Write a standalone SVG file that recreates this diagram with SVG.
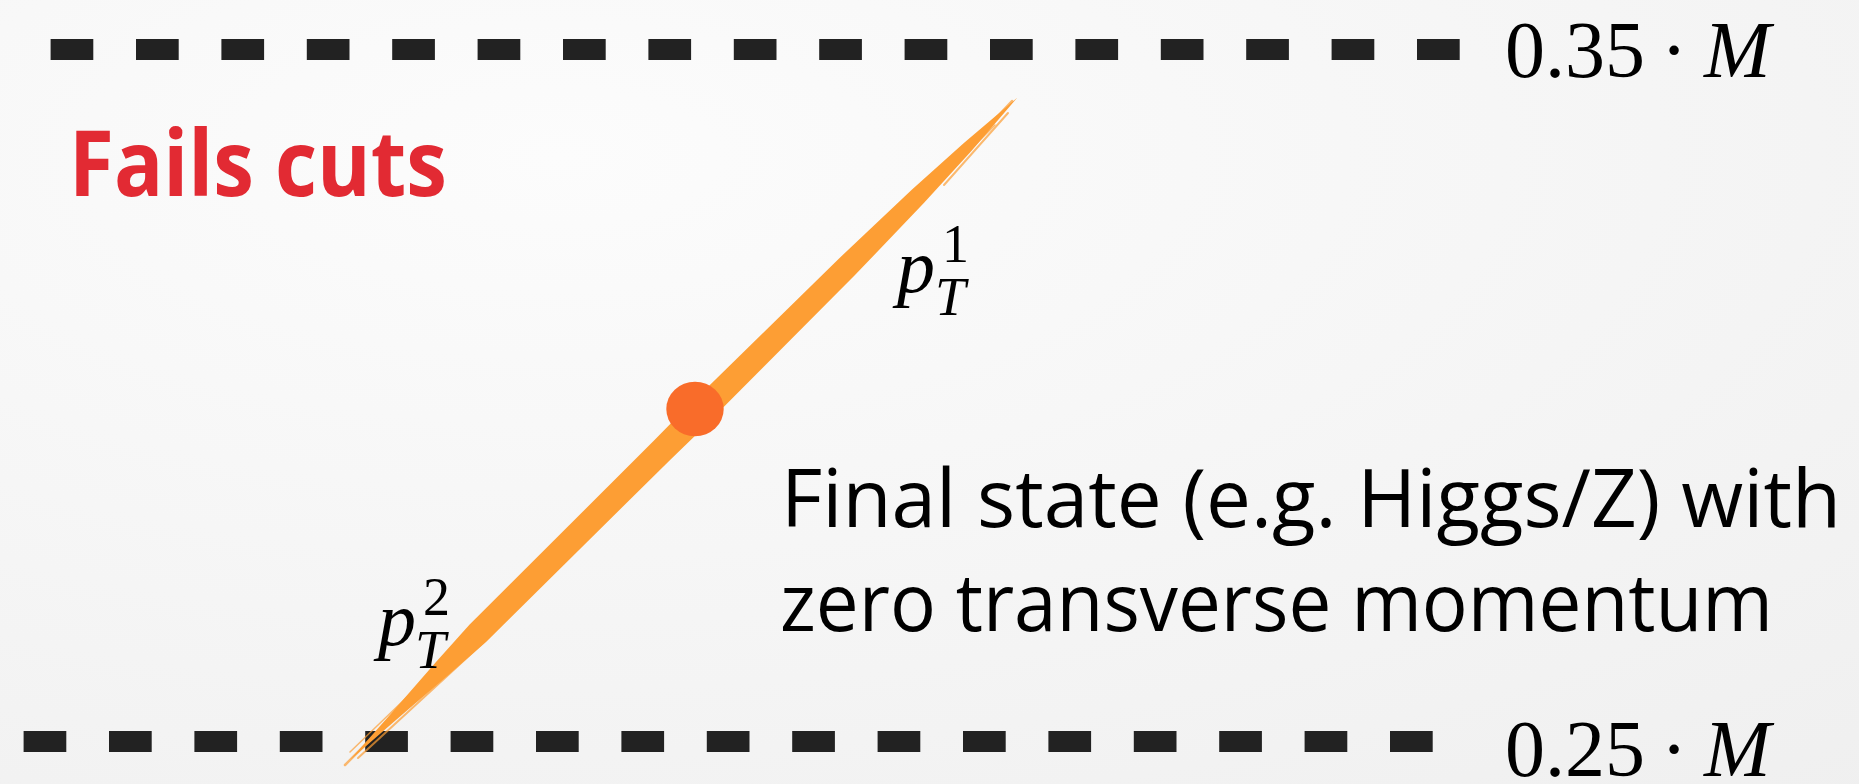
<svg xmlns="http://www.w3.org/2000/svg" width="1859" height="784" viewBox="0 0 1859 784">
  <defs>
    <radialGradient id="bg" cx="0.3" cy="0.2" r="1.1">
      <stop offset="0" stop-color="#fcfcfc"/>
      <stop offset="1" stop-color="#efefef"/>
    </radialGradient>
  </defs>
  <style>
    .dash { stroke: #222222; stroke-width: 21; stroke-dasharray: 42.7 42.7; fill: none; }
    .lbl { font-family: "Liberation Serif", "Times New Roman", serif; fill: #000000; }
    .it { font-style: italic; }
    .body { font-family: "Open Sans", "Noto Sans", sans-serif; fill: #000000; font-size: 80px; font-weight: 370; }
    .fail { font-family: "Open Sans", "Noto Sans", sans-serif; fill: #e22a33; font-size: 92px; font-weight: bold; }
    .brush { fill: #fd9e34; }
    .feather { stroke: #fd9e34; fill: none; stroke-linecap: round; }
  </style>
  <rect x="0" y="0" width="1859" height="784" fill="url(#bg)"/>

  <g id="cut-upper">
    <line class="dash" x1="50.6" y1="49.5" x2="1460" y2="49.5"/>
    <text class="lbl" x="1505" y="77" font-size="80">0.35</text>
    <text class="lbl" x="1674" y="77" font-size="80" text-anchor="middle">·</text>
    <text class="lbl it" x="1704" y="77" font-size="80">M</text>
  </g>

  <g id="cut-lower">
    <line class="dash" x1="23.6" y1="741.5" x2="1433" y2="741.5"/>
    <text class="lbl" x="1505" y="776" font-size="80">0.25</text>
    <text class="lbl" x="1674" y="776" font-size="80" text-anchor="middle">·</text>
    <text class="lbl it" x="1704" y="776" font-size="80">M</text>
  </g>

  <g id="fails-label">
    <text class="fail" x="69" y="196" textLength="378" lengthAdjust="spacingAndGlyphs">Fails cuts</text>
  </g>

  <g id="connectors">
    <path class="brush" d="M350,760 L389.8,714.9 L436.0,662.0 L469.4,624.7 L653.5,441.1 L674.4,419.7 L838.8,258.7 L911.5,190.0 L963.6,143.2 L1017.2,97.8 L971.4,151.0 L924.1,202.8 L855.0,275.1 L692.8,438.1 L671.1,458.9 L486.3,641.7 L448.6,674.8 L395.4,720.5 Z"/>
    <g opacity="0.7">
      <line class="feather" x1="930" y1="188" x2="1012" y2="101" stroke-width="2.5"/>
      <line class="feather" x1="944" y1="185" x2="1008" y2="113" stroke-width="2"/>
      <line class="feather" x1="920" y1="200" x2="995" y2="125" stroke-width="1.5"/>
      <line class="feather" x1="470" y1="640" x2="345" y2="765" stroke-width="2.5"/>
      <line class="feather" x1="484" y1="642" x2="358" y2="758" stroke-width="2"/>
      <line class="feather" x1="460" y1="646" x2="350" y2="752" stroke-width="1.5"/>
    </g>
  </g>

  <g id="final-state">
    <ellipse cx="695" cy="409" rx="28.7" ry="27.2" fill="#f96c2a"/>
  </g>

  <g id="pt1">
    <text class="lbl it" x="897" y="292" font-size="76">p</text>
    <text class="lbl" x="942" y="262" font-size="54">1</text>
    <text class="lbl it" x="935" y="315" font-size="55">T</text>
  </g>

  <g id="pt2">
    <text class="lbl it" x="378" y="645" font-size="76">p</text>
    <text class="lbl" x="423" y="615" font-size="54">2</text>
    <text class="lbl it" x="415" y="668" font-size="55">T</text>
  </g>

  <g id="description">
    <text class="body" x="781" y="527" textLength="1060" lengthAdjust="spacingAndGlyphs">Final state (e.g. Higgs/Z) with</text>
    <text class="body" x="780" y="631" textLength="993" lengthAdjust="spacingAndGlyphs">zero transverse momentum</text>
  </g>
</svg>
